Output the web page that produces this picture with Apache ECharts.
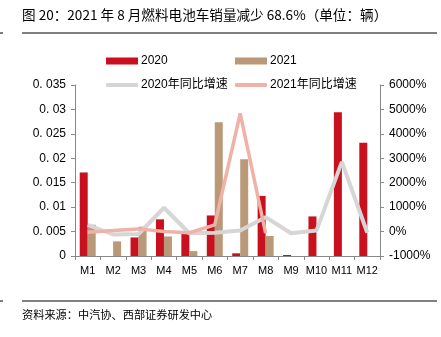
<!DOCTYPE html>
<html>
<head>
<meta charset="utf-8">
<script src="https://cdn.jsdelivr.net/npm/echarts@6/dist/echarts.min.js"></script>
<style>
  html, body { margin: 0; padding: 0; background: #fff; }
  #chart { width: 441px; height: 337px; }
</style>
</head>
<body>
<div id="chart"></div>
<script>
// Monthly fuel-cell vehicle sales (units) and year-on-year growth (%)
const months = ['M1', 'M2', 'M3', 'M4', 'M5', 'M6', 'M7', 'M8', 'M9', 'M10', 'M11', 'M12'];
const sales2020 = [0.0171, 0, 0.0038, 0.0075, 0.0045, 0.0083, 0.00055, 0.0123, 0.0002, 0.0081, 0.0294, 0.0232];
const sales2021 = [0.0064, 0.0030, 0.0060, 0.0040, 0.0010, 0.0274, 0.0198, 0.0041];
const yoy2020 = [275, -120, -100, 975, -70, -50, 40, 590, -70, 40, 2855, -50];
const yoy2021 = [-25, 40, 110, 0, -50, 275, 4840, -68.6];
const leftTicks = ['0', '0. 005', '0. 01', '0. 015', '0. 02', '0. 025', '0. 03', '0. 035'];

const FONT = '"Liberation Sans", Arial, "Noto Sans CJK SC", sans-serif';
const CJK = '"Noto Sans CJK SC", sans-serif';

const chart = echarts.init(document.getElementById('chart'), null, { renderer: 'canvas' });

function legendAt(name, left, top, icon, h) {
  return {
    data: [name], left: left, top: top, icon: icon,
    itemWidth: 32, itemHeight: h, itemGap: 0, padding: 0,
    textStyle: { fontFamily: FONT, fontSize: 12, color: '#000', padding: [0, 0, 0, -2] },
    selectedMode: false
  };
}

chart.setOption({
  animation: false,
  backgroundColor: '#fff',
  textStyle: { fontFamily: FONT },
  graphic: [
    { type: 'text', left: 22, top: 8, style: { text: '图 20：2021 年 8 月燃料电池车销量减少 68.6%（单位：辆）', font: '13.6px ' + CJK, fill: '#000' } },
    { type: 'line', shape: { x1: 22, y1: 33, x2: 437, y2: 33 }, style: { stroke: '#000', lineWidth: 1 } },
    { type: 'line', shape: { x1: 0, y1: 33, x2: 3, y2: 33 }, style: { stroke: '#000', lineWidth: 1 } },
    { type: 'line', shape: { x1: 22, y1: 301, x2: 437, y2: 301 }, style: { stroke: '#000', lineWidth: 1 } },
    { type: 'line', shape: { x1: 0, y1: 301, x2: 3, y2: 301 }, style: { stroke: '#000', lineWidth: 1 } },
    { type: 'text', left: 22, top: 309, style: { text: '资料来源：中汽协、西部证券研发中心', font: '11.2px ' + CJK, fill: '#000' } }
  ],
  legend: [
    legendAt('2020', 106, 55, 'rect', 7),
    legendAt('2021', 235, 55, 'rect', 7),
    legendAt('2020年同比增速', 106, 79, 'roundRect', 4),
    legendAt('2021年同比增速', 235, 79, 'roundRect', 4)
  ],
  grid: { left: 75, right: 61, top: 85, bottom: 81, containLabel: false },
  xAxis: {
    type: 'category',
    data: months,
    boundaryGap: true,
    axisLine: { lineStyle: { color: '#888', width: 1 } },
    axisTick: { show: true, length: 4, lineStyle: { color: '#888' } },
    axisLabel: { color: '#000', fontSize: 11, margin: 9, fontFamily: FONT, interval: 0 }
  },
  yAxis: [
    {
      type: 'value', min: 0, max: 0.035, interval: 0.005,
      axisLine: { show: true, lineStyle: { color: '#888' } },
      axisTick: { show: true, length: 4, lineStyle: { color: '#888' } },
      splitLine: { show: false },
      axisLabel: {
        color: '#000', fontSize: 12, margin: 9, fontFamily: FONT,
        formatter: (v) => leftTicks[Math.round(v / 0.005)]
      }
    },
    {
      type: 'value', min: -1000, max: 6000, interval: 1000,
      position: 'right',
      axisLine: { show: true, lineStyle: { color: '#888' } },
      axisTick: { show: true, length: 4, lineStyle: { color: '#888' } },
      splitLine: { show: false },
      axisLabel: { color: '#000', fontSize: 12, margin: 9, fontFamily: FONT, formatter: (v) => v + '%' }
    }
  ],
  series: [
    {
      name: '2020', type: 'bar', yAxisIndex: 0, data: sales2020,
      barWidth: 8, barGap: '0%', itemStyle: { color: '#C8101E' }, z: 2
    },
    {
      name: '2021', type: 'bar', yAxisIndex: 0, data: sales2021,
      barWidth: 8, barGap: '0%', itemStyle: { color: '#BA9978' }, z: 2
    },
    {
      name: '2020年同比增速', type: 'line', yAxisIndex: 1, data: yoy2020,
      symbol: 'none', lineStyle: { color: '#D6D6D6', width: 4 }, itemStyle: { color: '#D6D6D6' }, z: 3
    },
    {
      name: '2021年同比增速', type: 'line', yAxisIndex: 1, data: yoy2021,
      symbol: 'none', lineStyle: { color: '#F0B1A6', width: 3.5 }, itemStyle: { color: '#F0B1A6' }, z: 4
    }
  ]
});
</script>
</body>
</html>
